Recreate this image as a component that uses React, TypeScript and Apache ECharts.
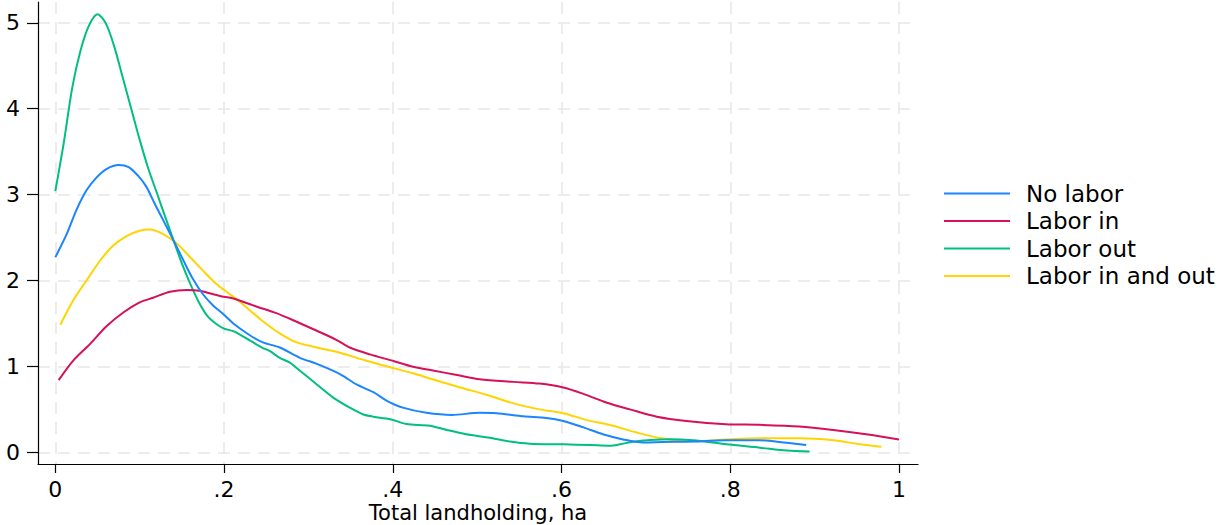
import React, { useEffect, useRef } from "react";
import * as echarts from "echarts";

const xTickValues = [0, 0.2, 0.4, 0.6, 0.8, 1];
const xTickLabels = ["0", ".2", ".4", ".6", ".8", "1"];
const yTickValues = [0, 1, 2, 3, 4, 5];
const yTickLabels = ["0", "1", "2", "3", "4", "5"];
const xTitle = "Total landholding, ha";
const seriesNames = ["No labor", "Labor in", "Labor out", "Labor in and out"];
const seriesColors = ["#1a85ff", "#d41159", "#00bf7f", "#ffd400"];

const noLabor = [
  [0.0, 2.27], [0.0135, 2.54], [0.025, 2.82], [0.037, 3.05], [0.049, 3.2], [0.061, 3.3],
  [0.075, 3.345], [0.087, 3.32], [0.098, 3.22], [0.108, 3.09], [0.118, 2.89], [0.128, 2.7],
  [0.14, 2.47], [0.152, 2.23], [0.163, 2.02], [0.175, 1.84], [0.187, 1.71], [0.199, 1.61],
  [0.211, 1.5], [0.231, 1.36], [0.246, 1.28], [0.266, 1.22], [0.29, 1.1], [0.31, 1.03],
  [0.329, 0.95], [0.341, 0.89], [0.357, 0.79], [0.377, 0.7], [0.393, 0.6], [0.412, 0.52],
  [0.44, 0.46], [0.47, 0.435], [0.503, 0.46], [0.523, 0.455], [0.555, 0.42], [0.582, 0.4],
  [0.602, 0.365], [0.626, 0.29], [0.649, 0.21], [0.673, 0.15], [0.697, 0.115], [0.72, 0.12],
  [0.756, 0.125], [0.795, 0.14], [0.835, 0.14], [0.867, 0.11], [0.89, 0.085],
];

const laborIn = [
  [0.004, 0.84], [0.021, 1.065], [0.041, 1.26], [0.061, 1.47], [0.081, 1.63], [0.1, 1.745],
  [0.116, 1.8], [0.136, 1.87], [0.156, 1.89], [0.171, 1.88], [0.195, 1.82], [0.211, 1.79],
  [0.239, 1.695], [0.262, 1.62], [0.286, 1.52], [0.31, 1.415], [0.333, 1.31], [0.349, 1.22],
  [0.373, 1.14], [0.4, 1.065], [0.424, 0.995], [0.446, 0.955], [0.476, 0.9], [0.503, 0.85],
  [0.543, 0.82], [0.574, 0.8], [0.602, 0.755], [0.626, 0.68], [0.653, 0.58], [0.681, 0.5],
  [0.713, 0.415], [0.748, 0.365], [0.795, 0.327], [0.835, 0.32], [0.882, 0.3], [0.922, 0.26],
  [0.961, 0.21], [1.0, 0.15],
];

const laborOut = [
  [0.0, 3.04], [0.01, 3.6], [0.02, 4.24], [0.03, 4.68], [0.04, 4.97], [0.05, 5.1],
  [0.06, 4.99], [0.07, 4.72], [0.08, 4.36], [0.09, 4.0], [0.1, 3.64], [0.11, 3.31],
  [0.12, 3.03], [0.13, 2.75], [0.14, 2.47], [0.15, 2.2], [0.16, 1.96], [0.17, 1.75],
  [0.18, 1.59], [0.19, 1.5], [0.2, 1.44], [0.211, 1.41], [0.231, 1.3], [0.245, 1.22],
  [0.254, 1.18], [0.266, 1.1], [0.278, 1.045], [0.29, 0.95], [0.31, 0.79], [0.329, 0.64],
  [0.349, 0.52], [0.365, 0.44], [0.377, 0.415], [0.397, 0.385], [0.416, 0.33], [0.444, 0.31],
  [0.464, 0.26], [0.487, 0.21], [0.515, 0.17], [0.539, 0.125], [0.562, 0.1], [0.602, 0.093],
  [0.634, 0.085], [0.657, 0.077], [0.669, 0.093], [0.685, 0.124], [0.705, 0.143], [0.729, 0.152],
  [0.756, 0.14], [0.795, 0.093], [0.835, 0.054], [0.867, 0.02], [0.894, 0.01],
];

const laborInOut = [
  [0.006, 1.485], [0.021, 1.765], [0.037, 2.0], [0.053, 2.23], [0.069, 2.41], [0.085, 2.52],
  [0.1, 2.58], [0.112, 2.594], [0.128, 2.54], [0.144, 2.43], [0.16, 2.27], [0.175, 2.115],
  [0.191, 1.96], [0.207, 1.84], [0.219, 1.75], [0.243, 1.55], [0.266, 1.385], [0.286, 1.28],
  [0.31, 1.22], [0.337, 1.16], [0.369, 1.065], [0.397, 0.99], [0.424, 0.92], [0.444, 0.86],
  [0.48, 0.755], [0.511, 0.67], [0.543, 0.57], [0.574, 0.5], [0.602, 0.455], [0.63, 0.375],
  [0.657, 0.32], [0.689, 0.23], [0.72, 0.16], [0.756, 0.13], [0.795, 0.15], [0.835, 0.163],
  [0.882, 0.163], [0.922, 0.14], [0.954, 0.093], [0.979, 0.065],
];

const seriesData = [noLabor, laborIn, laborOut, laborInOut];

const FONT = "'DejaVu Sans', 'Liberation Sans', Arial, sans-serif";
const FS = 23;

function labelFor(values: number[], labels: string[], v: number) {
  const i = values.findIndex((t) => Math.abs(t - v) < 1e-6);
  return i >= 0 ? labels[i] : "";
}

export default function App() {
  const ref = useRef<HTMLDivElement>(null);

  useEffect(() => {
    if (!ref.current) return;
    const chart = echarts.init(ref.current, undefined, { renderer: "svg" });
    const gridLine = {
      show: true,
      lineStyle: { color: "#e8e8e8", width: 1.6, type: [12, 8] as any },
    };
    chart.setOption({
      animation: false,
      backgroundColor: "#ffffff",
      grid: { left: 38, right: 310, top: 2, bottom: 61, containLabel: false, outerBoundsMode: "none" },
      legend: {
        orient: "vertical",
        left: 939,
        top: 177,
        icon: "rect",
        itemWidth: 66,
        itemHeight: 2,
        itemGap: 4.5,
        textStyle: {
          fontFamily: FONT,
          fontSize: FS,
          lineHeight: 23,
          color: "#000",
          padding: [0, 0, 0, 11],
        },
        data: seriesNames,
      },
      xAxis: {
        type: "value",
        min: -0.0205,
        max: 1.0225,
        name: xTitle,
        nameLocation: "middle",
        nameGap: 38,
        nameMoveOverlap: false,
        nameTextStyle: { fontFamily: FONT, fontSize: 21, lineHeight: 21, color: "#000" },
        axisLine: { show: true, onZero: false, lineStyle: { color: "#000", width: 1.2 } },
        axisTick: { show: true, length: 9, customValues: xTickValues, lineStyle: { color: "#000", width: 1.2 } },
        axisLabel: {
          customValues: xTickValues,
          margin: 15,
          fontFamily: FONT,
          fontSize: 22,
          lineHeight: 20,
          color: "#000",
          formatter: (v: number) => labelFor(xTickValues, xTickLabels, v),
        },
        splitLine: gridLine,
      },
      yAxis: {
        type: "value",
        min: -0.136,
        max: 5.242,
        axisLine: { show: true, onZero: false, lineStyle: { color: "#000", width: 1.2 } },
        axisTick: { show: true, length: 11, customValues: yTickValues, lineStyle: { color: "#000", width: 1.2 } },
        axisLabel: {
          customValues: yTickValues,
          margin: 18,
          fontFamily: FONT,
          fontSize: 22,
          color: "#000",
          formatter: (v: number) => labelFor(yTickValues, yTickLabels, v),
        },
        splitLine: gridLine,
      },
      series: seriesNames.map((name, i) => ({
        name,
        type: "line",
        data: seriesData[i],
        smooth: 0.3,
        symbol: "none",
        showSymbol: false,
        lineStyle: { color: seriesColors[i], width: 2 },
        itemStyle: { color: seriesColors[i] },
        z: 10 - i,
      })),
    });
    return () => chart.dispose();
  }, []);

  return (
    <div
      ref={ref}
      style={{ position: "fixed", left: 0, top: 0, width: 1228, height: 525, background: "#fff" }}
    />
  );
}
